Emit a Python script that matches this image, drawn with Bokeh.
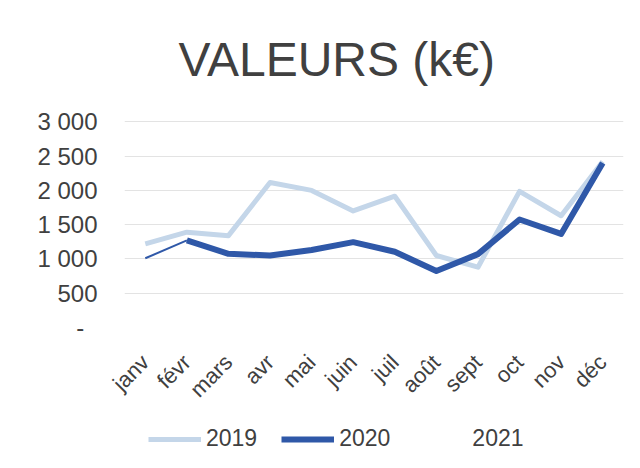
import math
from bokeh.plotting import figure
from bokeh.layouts import column
from bokeh.models import (Range1d, FactorRange, FixedTicker, Label, Legend, LegendItem,
                          ColumnDataSource)
from bokeh.embed import file_html
from bokeh.resources import INLINE

months = ["janv", "févr", "mars", "avr", "mai", "juin", "juil", "août", "sept", "oct", "nov", "déc"]
v2019 = [1220, 1390, 1340, 2115, 2000, 1700, 1915, 1050, 880, 1985, 1630, 2420]
v2020 = [1010, 1270, 1075, 1050, 1130, 1245, 1105, 825, 1070, 1575, 1365, 2400]
v2021 = [float("nan")] * 12
y_ticks = [0, 500, 1000, 1500, 2000, 2500, 3000]
y_tick_labels = ["-\u00a0\u00a0", "500", "1 000", "1 500", "2 000", "2 500", "3 000"]
title_text = "VALEURS (k€)"
series_names = ["2019", "2020", "2021"]

FONT = "Liberation Sans"
TXT = "#404040"
LIGHT = "#C4D6E9"
DARK = "#2F58A8"

# layout geometry (pixels)
FRAME_W = 499
AXIS_PX = 207          # pixels from 0 to 3000
FRAME_TOP = 20         # frame extends above the 3000 line to hold the title
FRAME_H = 309
Y_MAX = 3000 * FRAME_H / AXIS_PX
px_x = FRAME_W / len(months)
title_x = 54 / px_x                      # left edge of title, in category units
title_y = (FRAME_H - (59 - FRAME_TOP)) * 3000 / AXIS_PX   # anchor of title

p = figure(title=None, width=624, height=413,
           x_range=FactorRange(factors=months, range_padding=0),
           y_range=Range1d(0, Y_MAX), output_backend="svg", toolbar_location=None,
           min_border_left=124, min_border_right=1, min_border_top=FRAME_TOP,
           min_border_bottom=84)
p.outline_line_color = None
p.background_fill_color = "white"
p.border_fill_color = "white"

src = ColumnDataSource(dict(m=months, a=v2019, b=v2020, c=v2021))
p.line("m", "a", source=src, line_color=LIGHT, line_width=5, line_join="round")
# first segment of 2020 drawn thin, rest thick
src_first = ColumnDataSource(dict(m=months[:2], b=v2020[:2]))
p.line("m", "b", source=src_first, line_color=DARK, line_width=2)
src_rest = ColumnDataSource(dict(m=months[1:], b=v2020[1:]))
p.line("m", "b", source=src_rest, line_color=DARK, line_width=6, line_join="round")
p.line("m", "c", source=src, line_color="white", line_alpha=0, line_width=6)

p.add_layout(Label(x=title_x, y=title_y, text=title_text, text_align="left",
                   text_baseline="alphabetic", text_font=FONT, text_font_size="48px",
                   text_color=TXT))

p.yaxis.ticker = FixedTicker(ticks=y_ticks)
p.yaxis.major_label_overrides = {t: l for t, l in zip(y_ticks, y_tick_labels)}
p.yaxis.axis_line_color = None
p.yaxis.major_tick_line_color = None
p.yaxis.major_tick_out = 0
p.yaxis.minor_tick_line_color = None
p.yaxis.major_label_standoff = 27
p.yaxis.major_label_text_font = FONT
p.yaxis.major_label_text_font_size = "24px"
p.yaxis.major_label_text_color = TXT

p.xaxis.axis_line_color = None
p.xaxis.major_tick_line_color = None
p.xaxis.major_label_orientation = math.pi / 4
p.xaxis.major_label_standoff = 25
p.xaxis.major_label_text_font = FONT
p.xaxis.major_label_text_font_size = "22px"
p.xaxis.major_label_text_color = TXT

p.xgrid.grid_line_color = None
p.ygrid.grid_line_color = "#E3E3E3"
p.ygrid.grid_line_width = 1

# ---- legend strip ----
pl = figure(title=None, width=624, height=39, x_range=Range1d(0, 1), y_range=Range1d(0, 1),
            output_backend="svg", toolbar_location=None,
            min_border_left=0, min_border_right=0, min_border_top=0, min_border_bottom=0)
pl.axis.visible = False
pl.grid.visible = False
pl.outline_line_color = None
nan = [float("nan")]
l19 = pl.line(x=nan, y=nan, line_color=LIGHT, line_width=5)
l20 = pl.line(x=nan, y=nan, line_color=DARK, line_width=6)
l21 = pl.line(x=nan, y=nan, line_color="white", line_alpha=0, line_width=6)
legend = Legend(items=[LegendItem(label=series_names[0], renderers=[l19]),
                       LegendItem(label=series_names[1], renderers=[l20]),
                       LegendItem(label=series_names[2], renderers=[l21])],
                orientation="horizontal", location=(24, 0),
                glyph_width=53, glyph_height=20, label_standoff=5, spacing=24,
                padding=0, margin=0, border_line_color=None, background_fill_alpha=0,
                label_text_font=FONT, label_text_font_size="23px", label_text_color=TXT)
pl.add_layout(legend, "center")

layout = column(p, pl, spacing=0)
open("out.html", "w").write(file_html(layout, INLINE))
